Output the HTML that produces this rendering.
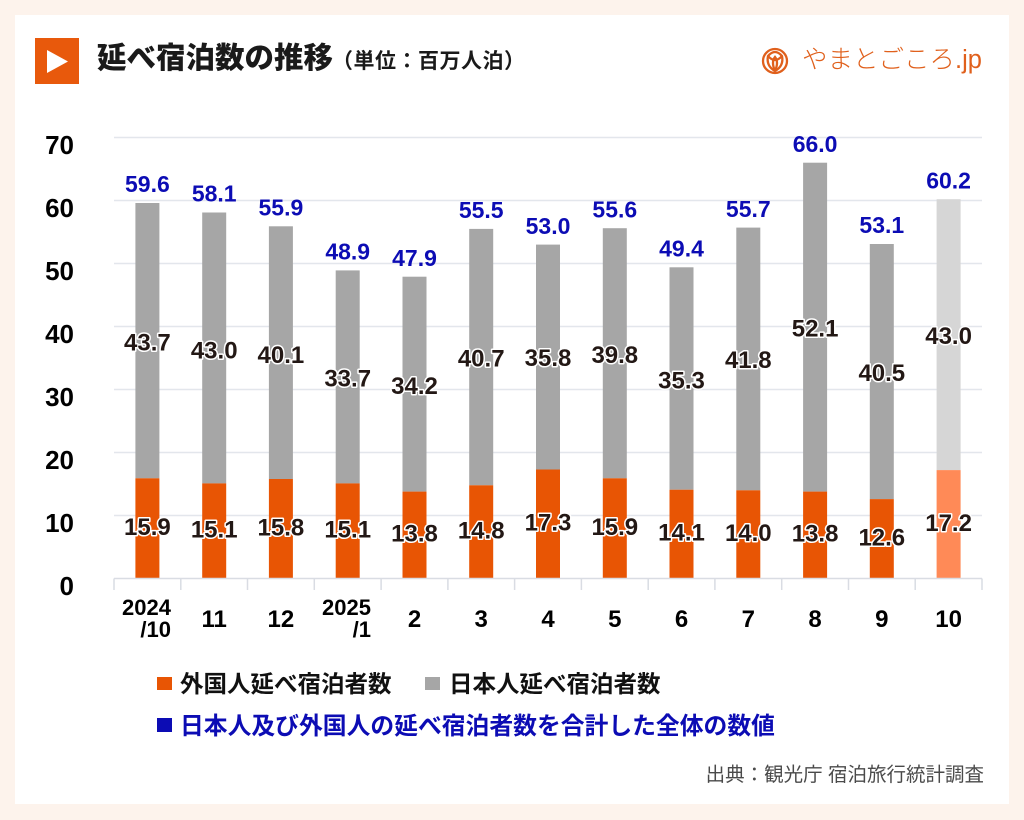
<!DOCTYPE html>
<html><head><meta charset="utf-8"><style>
html,body{margin:0;padding:0;background:#fdf3ec;}
svg{display:block;}
.n{font-family:"Liberation Sans",sans-serif;font-weight:700;}
.j{font-family:"Liberation Sans","Noto Sans CJK JP",sans-serif;}
.lab{font-size:24px;fill:#231815;stroke:#fff;stroke-width:3;paint-order:stroke;stroke-linejoin:round;text-anchor:middle;}
.tot{font-size:23px;fill:#0c0cb4;text-anchor:middle;}
.yl{font-size:26px;fill:#000;text-anchor:end;}
.xl{font-size:24px;fill:#000;text-anchor:middle;}
.xl2{font-size:22px;fill:#000;text-anchor:end;}
</style></head><body>
<svg width="1024" height="820" viewBox="0 0 1024 820" xmlns="http://www.w3.org/2000/svg">
<rect x="0" y="0" width="1024" height="820" fill="#fdf3ec"/>
<rect x="15" y="15" width="994" height="789" fill="#ffffff"/>
<!-- title -->
<rect x="35" y="38" width="44" height="46" fill="#e8590c"/>
<polygon points="47,50 47,73 68,61.5" fill="#ffffff"/>
<text x="97" y="68" class="j" font-size="29.5" font-weight="900" fill="#1a1a1a">延べ宿泊数の推移</text>
<text x="332" y="68" class="j" font-size="21" font-weight="700" fill="#1a1a1a" letter-spacing="0.5">（単位：百万人泊）</text>
<!-- logo -->
<g fill="none" stroke="#e0601c" stroke-width="2.3">
<circle cx="775" cy="61" r="12"/>
<path d="M768,56 Q775,48 782,56 Q784,66 775,71 Q766,66 768,56 Z"/>
<path d="M768,56 Q775,64 782,56"/>
<path d="M775,71 Q771,62 775,57 Q779,62 775,71"/>
</g>
<text x="802" y="68" class="j" font-size="25.5" font-weight="300" fill="#e0601c">やまとごころ.jp</text>
<!-- gridlines -->
<g stroke="#e3e6ec" stroke-width="1.5">
<line x1="114" x2="982" y1="515.5" y2="515.5"/>
<line x1="114" x2="982" y1="452.5" y2="452.5"/>
<line x1="114" x2="982" y1="389.5" y2="389.5"/>
<line x1="114" x2="982" y1="326.5" y2="326.5"/>
<line x1="114" x2="982" y1="263.5" y2="263.5"/>
<line x1="114" x2="982" y1="200.5" y2="200.5"/>
<line x1="114" x2="982" y1="137.5" y2="137.5"/>
</g>
<!-- y labels -->
<g class="n">
<text class="yl" x="74" y="154">70</text>
<text class="yl" x="74" y="217">60</text>
<text class="yl" x="74" y="280">50</text>
<text class="yl" x="74" y="343">40</text>
<text class="yl" x="74" y="406">30</text>
<text class="yl" x="74" y="469">20</text>
<text class="yl" x="74" y="532">10</text>
<text class="yl" x="74" y="595">0</text>
</g>
<!-- bars -->
<g>
<rect x="135.4" y="203.0" width="24" height="275.3" fill="#a6a6a6"/><rect x="135.4" y="478.3" width="24" height="100.2" fill="#e85504"/>
<rect x="202.2" y="212.5" width="24" height="270.9" fill="#a6a6a6"/><rect x="202.2" y="483.4" width="24" height="95.1" fill="#e85504"/>
<rect x="268.9" y="226.3" width="24" height="252.7" fill="#a6a6a6"/><rect x="268.9" y="479.0" width="24" height="99.5" fill="#e85504"/>
<rect x="335.7" y="270.4" width="24" height="213.0" fill="#a6a6a6"/><rect x="335.7" y="483.4" width="24" height="95.1" fill="#e85504"/>
<rect x="402.5" y="276.7" width="24" height="214.9" fill="#a6a6a6"/><rect x="402.5" y="491.6" width="24" height="86.9" fill="#e85504"/>
<rect x="469.2" y="228.9" width="24" height="256.4" fill="#a6a6a6"/><rect x="469.2" y="485.3" width="24" height="93.2" fill="#e85504"/>
<rect x="536.0" y="244.6" width="24" height="224.9" fill="#a6a6a6"/><rect x="536.0" y="469.5" width="24" height="109.0" fill="#e85504"/>
<rect x="602.8" y="228.2" width="24" height="250.1" fill="#a6a6a6"/><rect x="602.8" y="478.3" width="24" height="100.2" fill="#e85504"/>
<rect x="669.5" y="267.3" width="24" height="222.4" fill="#a6a6a6"/><rect x="669.5" y="489.7" width="24" height="88.8" fill="#e85504"/>
<rect x="736.3" y="227.6" width="24" height="262.7" fill="#a6a6a6"/><rect x="736.3" y="490.3" width="24" height="88.2" fill="#e85504"/>
<rect x="803.1" y="162.7" width="24" height="328.9" fill="#a6a6a6"/><rect x="803.1" y="491.6" width="24" height="86.9" fill="#e85504"/>
<rect x="869.8" y="244.0" width="24" height="255.1" fill="#a6a6a6"/><rect x="869.8" y="499.1" width="24" height="79.4" fill="#e85504"/>
<rect x="936.6" y="199.2" width="24" height="270.9" fill="#d6d6d6"/><rect x="936.6" y="470.1" width="24" height="108.4" fill="#ff8a57"/>
</g>
<!-- axis -->
<g stroke="#d9dce3" stroke-width="1.5">
<line x1="114" x2="982" y1="578.5" y2="578.5"/>
<line x1="114" x2="114" y1="578.5" y2="590"/>
<line x1="180.8" x2="180.8" y1="578.5" y2="590"/>
<line x1="247.5" x2="247.5" y1="578.5" y2="590"/>
<line x1="314.3" x2="314.3" y1="578.5" y2="590"/>
<line x1="381.1" x2="381.1" y1="578.5" y2="590"/>
<line x1="447.9" x2="447.9" y1="578.5" y2="590"/>
<line x1="514.6" x2="514.6" y1="578.5" y2="590"/>
<line x1="581.4" x2="581.4" y1="578.5" y2="590"/>
<line x1="648.2" x2="648.2" y1="578.5" y2="590"/>
<line x1="714.9" x2="714.9" y1="578.5" y2="590"/>
<line x1="781.7" x2="781.7" y1="578.5" y2="590"/>
<line x1="848.5" x2="848.5" y1="578.5" y2="590"/>
<line x1="915.2" x2="915.2" y1="578.5" y2="590"/>
<line x1="982" x2="982" y1="578.5" y2="590"/>
</g>
<!-- orange labels -->
<g class="n">
<text class="lab" x="147.4" y="535">15.9</text>
<text class="lab" x="214.2" y="537.6">15.1</text>
<text class="lab" x="280.9" y="535.3">15.8</text>
<text class="lab" x="347.7" y="537.6">15.1</text>
<text class="lab" x="414.5" y="541.6">13.8</text>
<text class="lab" x="481.2" y="538.6">14.8</text>
<text class="lab" x="548.0" y="530.6">17.3</text>
<text class="lab" x="614.8" y="535">15.9</text>
<text class="lab" x="681.5" y="540.6">14.1</text>
<text class="lab" x="748.3" y="541">14.0</text>
<text class="lab" x="815.1" y="541.6">13.8</text>
<text class="lab" x="881.8" y="545.4">12.6</text>
<text class="lab" x="948.6" y="530.9">17.2</text>
<!-- gray labels -->
<text class="lab" x="147.4" y="350.5">43.7</text>
<text class="lab" x="214.2" y="358.6">43.0</text>
<text class="lab" x="280.9" y="363">40.1</text>
<text class="lab" x="347.7" y="386.5">33.7</text>
<text class="lab" x="414.5" y="393.8">34.2</text>
<text class="lab" x="481.2" y="366.7">40.7</text>
<text class="lab" x="548.0" y="366">35.8</text>
<text class="lab" x="614.8" y="363">39.8</text>
<text class="lab" x="681.5" y="388.5">35.3</text>
<text class="lab" x="748.3" y="368">41.8</text>
<text class="lab" x="815.1" y="336.5">52.1</text>
<text class="lab" x="881.8" y="381">40.5</text>
<text class="lab" x="948.6" y="344">43.0</text>
<!-- totals -->
<text class="tot" x="147.4" y="192.2">59.6</text>
<text class="tot" x="214.2" y="201.7">58.1</text>
<text class="tot" x="280.9" y="215.5">55.9</text>
<text class="tot" x="347.7" y="259.6">48.9</text>
<text class="tot" x="414.5" y="265.9">47.9</text>
<text class="tot" x="481.2" y="218.1">55.5</text>
<text class="tot" x="548.0" y="233.8">53.0</text>
<text class="tot" x="614.8" y="217.4">55.6</text>
<text class="tot" x="681.5" y="256.5">49.4</text>
<text class="tot" x="748.3" y="216.8">55.7</text>
<text class="tot" x="815.1" y="151.9">66.0</text>
<text class="tot" x="881.8" y="233.2">53.1</text>
<text class="tot" x="948.6" y="188.4">60.2</text>
<!-- x labels -->
<text class="xl2" x="171" y="615">2024</text>
<text class="xl2" x="171" y="637">/10</text>
<text class="xl" x="214.2" y="627">11</text>
<text class="xl" x="280.9" y="627">12</text>
<text class="xl2" x="371" y="615">2025</text>
<text class="xl2" x="371" y="637">/1</text>
<text class="xl" x="414.5" y="627">2</text>
<text class="xl" x="481.2" y="627">3</text>
<text class="xl" x="548.0" y="627">4</text>
<text class="xl" x="614.8" y="627">5</text>
<text class="xl" x="681.5" y="627">6</text>
<text class="xl" x="748.3" y="627">7</text>
<text class="xl" x="815.1" y="627">8</text>
<text class="xl" x="881.8" y="627">9</text>
<text class="xl" x="948.6" y="627">10</text>
</g>
<!-- legend -->
<rect x="157" y="677" width="15" height="13" fill="#e85504"/>
<text x="180" y="692" class="j" font-size="23.5" font-weight="700" fill="#111">外国人延べ宿泊者数</text>
<rect x="425" y="677" width="15" height="13" fill="#a6a6a6"/>
<text x="449" y="692" class="j" font-size="23.5" font-weight="700" fill="#111">日本人延べ宿泊者数</text>
<rect x="157" y="718" width="15" height="14" fill="#0c0cb4"/>
<text x="180" y="734" class="j" font-size="23.8" font-weight="700" fill="#0c0cb4">日本人及び外国人の延べ宿泊者数を合計した全体の数値</text>
<!-- source -->
<text x="984" y="781" class="j" font-size="19.5" fill="#4a4a4a" text-anchor="end">出典：観光庁 宿泊旅行統計調査</text>
</svg>
</body></html>
